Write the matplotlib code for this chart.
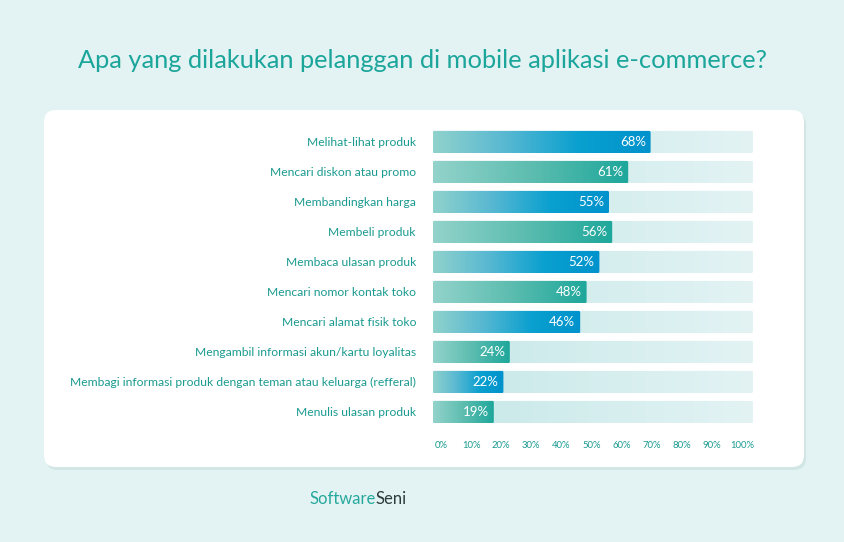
import matplotlib.pyplot as plt
import numpy as np
from matplotlib.patches import FancyBboxPatch
from matplotlib.colors import LinearSegmentedColormap

categories = [
    "Melihat-lihat produk",
    "Mencari diskon atau promo",
    "Membandingkan harga",
    "Membeli produk",
    "Membaca ulasan produk",
    "Mencari nomor kontak toko",
    "Mencari alamat fisik toko",
    "Mengambil informasi akun/kartu loyalitas",
    "Membagi informasi produk dengan teman atau keluarga (refferal)",
    "Menulis ulasan produk",
]
values = [68, 61, 55, 56, 52, 48, 46, 24, 22, 19]
ticks = [0, 10, 20, 30, 40, 50, 60, 70, 80, 90, 100]

plt.rcParams["font.family"] = ["Lato", "DejaVu Sans"]
W, H = 844, 542
fig = plt.figure(figsize=(W / 100, H / 100), dpi=100, facecolor="#e3f3f3")

# card
bg = fig.add_axes([0, 0, 1, 1])
bg.set_xlim(0, W)
bg.set_ylim(H, 0)
bg.axis("off")
bg.add_patch(FancyBboxPatch((46, 113), 760, 357, boxstyle="round,pad=0,rounding_size=12",
                            fc="#c9dede", ec="none", alpha=0.6))
bg.add_patch(FancyBboxPatch((44, 110), 760, 357, boxstyle="round,pad=0,rounding_size=12",
                            fc="white", ec="none"))
bg.text(422, 60, "Apa yang dilakukan pelanggan di mobile aplikasi e-commerce?",
        ha="center", va="center", fontsize=18.3, color="#1ba59b")
bg.text(376, 499, "Software", ha="right", va="center", fontsize=12, color="#27a89c")
bg.text(376, 499, "Seni", ha="left", va="center", fontsize=12, color="#2b3a3a")

x0, x1 = 433, 753
ax = fig.add_axes([x0 / W, 1 - 427 / H, (x1 - x0) / W, 300 / H])
ax.axis("off")

blue = LinearSegmentedColormap.from_list("b", ["#90d2cc", "#58b8d2", "#0aa0cf", "#0092cc"])
teal = LinearSegmentedColormap.from_list("t", ["#93d3cb", "#5dbdb0", "#1ea79b"])
track = LinearSegmentedColormap.from_list("k", ["#c6e8e8", "#e3f3f4"])
grad = np.linspace(0, 1, 256).reshape(1, -1)
h = 0.74
for i, (cat, v) in enumerate(zip(categories, values)):
    tp = FancyBboxPatch((0, i - h / 2), 100, h, boxstyle="round,pad=0,rounding_size=0.5",
                        fc="none", ec="none", mutation_aspect=0.1)
    ax.add_patch(tp)
    im = ax.imshow(grad, cmap=track, extent=(0, 100, i + h / 2, i - h / 2), aspect="auto")
    im.set_clip_path(tp)
    bp = FancyBboxPatch((0, i - h / 2), v, h, boxstyle="round,pad=0,rounding_size=0.5",
                        fc="none", ec="none", mutation_aspect=0.1)
    ax.add_patch(bp)
    cm = blue if i % 2 == 0 else teal
    im = ax.imshow(grad, cmap=cm, extent=(0, v, i + h / 2, i - h / 2), aspect="auto")
    im.set_clip_path(bp)
    ax.text(v - 1.5, i, f"{v}%", ha="right", va="center", color="white", fontsize=9.5)
    bg.text(416, 142 + 30 * i, cat, ha="right", va="center", color="#1a9a90", fontsize=8.7)
ax.set_ylim(9.5, -0.5)
ax.set_xlim(0, 100)

tick_x = np.linspace(x0 + 8, x1 - 11, len(ticks))
for tx, t in zip(tick_x, ticks):
    bg.text(tx, 446, f"{t}%", ha="center", va="center", fontsize=6.8, color="#1a9a90")

fig.savefig("out.png", dpi=100, facecolor=fig.get_facecolor())
